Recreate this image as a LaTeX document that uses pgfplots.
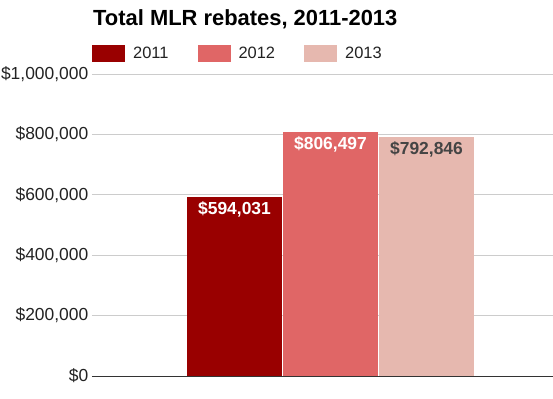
\documentclass[border=0pt]{standalone}
\usepackage{pgfplots}
\pgfplotsset{compat=1.18}
\usepackage{fontspec}
\setmainfont{Liberation Sans}
\definecolor{c2011}{HTML}{990000}
\definecolor{c2012}{HTML}{E06666}
\definecolor{c2013}{HTML}{E6B8AF}
\definecolor{gridc}{HTML}{CCCCCC}
\definecolor{axisc}{HTML}{333333}
\definecolor{tickc}{HTML}{222222}
\definecolor{darklbl}{HTML}{444444}
\begin{document}
\begin{tikzpicture}
\begin{axis}[
  scale only axis, width=461bp, height=302bp,
  xmin=92, xmax=553, ymin=0, ymax=1000000,
  axis lines*=left,
  y axis line style={draw=none},
  x axis line style={draw=axisc, line width=1bp},
  xtick=\empty,
  ytick={0,200000,400000,600000,800000,1000000},
  major tick length=0pt,
  ymajorgrids, grid style={draw=gridc, line width=0.8bp},
  scaled y ticks=false,
  /pgf/number format/fixed,
  /pgf/number format/precision=0,
  /pgf/number format/1000 sep={,},
  /pgf/number format/assume math mode=true,
  yticklabel={\$\pgfmathprintnumber{\tick}},
  yticklabel style={font=\fontsize{17.5}{17.5}\selectfont, text=tickc, inner sep=0pt, xshift=-3.5bp},
  title={Total MLR rebates, 2011-2013},
  title style={at={(0.0022,1.140)}, anchor=base west, inner sep=0pt, font=\bfseries\fontsize{22}{22}\selectfont, text=black},
  legend columns=3,
  legend style={at={(0,1.0679)}, anchor=west, draw=none, fill=none, inner sep=0pt,
    font=\fontsize{16.5}{16.5}\selectfont, text=tickc,
    nodes={inner sep=0pt},
    /tikz/every odd column/.append style={column sep=8bp},
    /tikz/every even column/.append style={column sep=29bp}},
  ybar, bar width=95, bar shift=0pt,
  point meta=explicit symbolic,
  nodes near coords={\pgfplotspointmeta},
  every node near coord/.append style={anchor=base, yshift=-17.5bp, inner sep=0pt,
    font=\bfseries\fontsize{17.5}{17.5}\selectfont},
  clip=false,
]
\addplot[fill=c2011, draw=none, every node near coord/.append style={text=white},
  legend image code/.code={\fill[c2011] (0bp,-8.5bp) rectangle (33bp,8.5bp);}]
  coordinates {(234.5,594031) [\$594,031]};
\addplot[fill=c2012, draw=none, every node near coord/.append style={text=white},
  legend image code/.code={\fill[c2012] (0bp,-8.5bp) rectangle (33bp,8.5bp);}]
  coordinates {(330.5,806497) [\$806,497]};
\addplot[fill=c2013, draw=none, every node near coord/.append style={text=darklbl},
  legend image code/.code={\fill[c2013] (0bp,-8.5bp) rectangle (33bp,8.5bp);}]
  coordinates {(426.5,792846) [\$792,846]};
\legend{2011,2012,2013}
\end{axis}
\pgfresetboundingbox
\path (current axis.south west) ++(-92bp,-23bp) rectangle ++(553bp,399bp);
\end{tikzpicture}
\end{document}
